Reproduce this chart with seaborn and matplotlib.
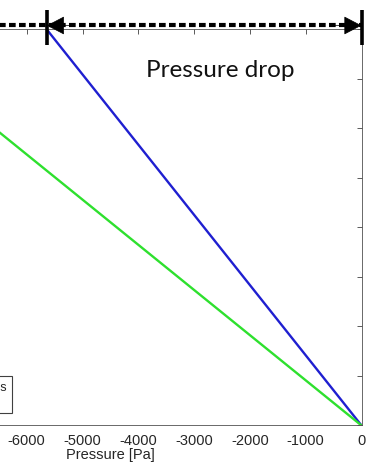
import numpy as np
import pandas as pd
import matplotlib
matplotlib.use("Agg")
import matplotlib.pyplot as plt
import matplotlib.transforms as mtransforms
import seaborn as sns

# Position along the channel and the static pressure at each end
position = [0.0, 0.8]
pressure_without_ribs = [0.0, -5640.0]
pressure_with_ribs = [0.0, -8766.0]
series_labels = ["Without ribs", "With ribs"]
series_colors = ["#1f1fd0", "#2ee02e"]

x_ticks = list(range(-9000, 1, 1000))
y_ticks = [0.0, 0.1, 0.2, 0.3, 0.4, 0.5, 0.6, 0.7, 0.8]

sns.set_theme(style="white")
plt.rcParams["font.family"] = ["Liberation Sans", "DejaVu Sans"]
plt.rcParams["axes.unicode_minus"] = False

df = pd.concat([
    pd.DataFrame({"Pressure": pressure_without_ribs, "Position": position,
                  "Case": series_labels[0]}),
    pd.DataFrame({"Pressure": pressure_with_ribs, "Position": position,
                  "Case": series_labels[1]}),
], ignore_index=True)

fig = plt.figure(figsize=(3.74, 4.67), dpi=100)
fig.patch.set_facecolor("white")
ax = fig.add_axes([-0.3762, 0.08887, 1.3428, 0.84797])
ax.set_facecolor("white")

sns.lineplot(data=df, x="Pressure", y="Position", hue="Case",
             palette=dict(zip(series_labels, series_colors)),
             sort=False, estimator=None, linewidth=1.7, ax=ax)

ax.set_xlim(x_ticks[0], x_ticks[-1])
ax.set_ylim(y_ticks[0], y_ticks[-1])
ax.set_xticks(x_ticks)
ax.set_yticks(y_ticks)
ax.set_xticklabels([str(v) for v in x_ticks])
ax.set_ylabel("")
ax.set_xlabel("Pressure [Pa]", fontsize=10.5, color="#262626", labelpad=0.0)

ax.tick_params(axis="both", direction="in", length=3.8, width=0.6,
               top=True, right=True, colors="#404040", labelcolor="#262626",
               labelsize=10.5, pad=6.0)
for sp in ax.spines.values():
    sp.set_color("#505050")
    sp.set_linewidth(0.6)

# Legend anchored at its lower-right corner
leg = ax.legend(loc="lower right", bbox_to_anchor=(0.304, 0.0316),
                borderaxespad=0, frameon=True, fancybox=False,
                edgecolor="#404040", framealpha=1, fontsize=9,
                borderpad=0.45, labelspacing=0.12, handlelength=2.5)
leg.get_frame().set_linewidth(0.8)

# Pressure-drop dimension arrow above the axes
trans = mtransforms.blended_transform_factory(ax.transData, ax.transAxes)
drop_start = pressure_without_ribs[-1]
drop_end = pressure_without_ribs[0]
y_arrow = 1.0101

ax.plot([x_ticks[0], drop_end], [y_arrow, y_arrow], transform=trans,
        color="black", lw=3.0, linestyle=(0, (1.6, 0.8)),
        solid_capstyle="butt", dash_capstyle="butt", clip_on=False, zorder=5)

head = "-|>,head_length=1.15,head_width=0.6"
ax.annotate("", xy=(drop_start, y_arrow), xytext=(drop_start + 500, y_arrow),
            xycoords=trans, textcoords=trans,
            arrowprops=dict(arrowstyle=head, color="black", lw=0.5,
                            shrinkA=0, shrinkB=0, mutation_scale=10),
            annotation_clip=False, zorder=6)
ax.annotate("", xy=(drop_end, y_arrow), xytext=(drop_end - 500, y_arrow),
            xycoords=trans, textcoords=trans,
            arrowprops=dict(arrowstyle=head, color="black", lw=0.5,
                            shrinkA=0, shrinkB=0, mutation_scale=10),
            annotation_clip=False, zorder=6)

for xb in (drop_start, drop_end):
    ax.plot([xb, xb], [0.961, 1.049], transform=trans, color="black",
            lw=2.6, solid_capstyle="butt", clip_on=False, zorder=7)

ax.text(0.718, 0.880, "Pressure drop", transform=ax.transAxes,
        ha="center", va="baseline", fontsize=17.5, fontfamily="Lato",
        color="#111111")

fig.savefig("out.png", dpi=100, facecolor="white")
